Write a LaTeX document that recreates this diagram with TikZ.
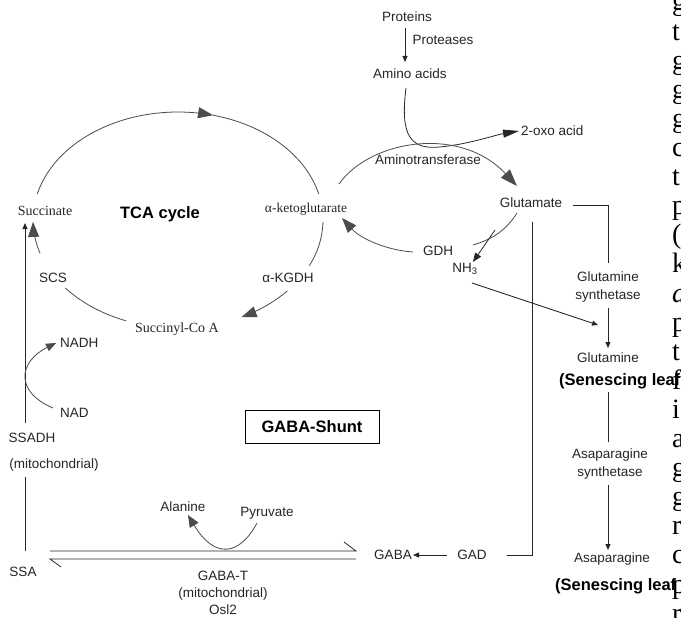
\documentclass[tikz,border=0pt]{standalone}
\usepackage{fontspec}
\setmainfont{Liberation Serif}
\newfontfamily\arialf{Liberation Sans}
\usetikzlibrary{arrows.meta}
\newcommand\lblfont{\arialf\fontsize{13.5}{17.5}\selectfont}
\newcommand\boldlblfont{\arialf\bfseries\fontsize{16.5}{18}\selectfont}
\newcommand\seriflblfont{\fontsize{14}{16}\selectfont}
\newcommand\pagefont{\fontsize{28}{30}\selectfont}
\newcommand\openpar{(}
\begin{document}
\begin{tikzpicture}[x=1pt,y=-1pt,
  lab/.style={font=\lblfont, text=black!85, inner sep=0pt, align=center},
  blab/.style={font=\boldlblfont, text=black, inner sep=0pt},
  slab/.style={font=\seriflblfont, text=black!85, inner sep=0pt},
  pagetxt/.style={font=\pagefont, text=black, inner sep=0pt, anchor=base west},
  ln/.style={draw=black!85, line width=0.8pt},
  cv/.style={draw=black!70, line width=0.8pt},
  bigtip/.style={-{Triangle[length=15pt,width=11pt]}},
  midtip/.style={-{Triangle[length=10pt,width=8pt]}},
  smtip/.style={-{Triangle[length=6pt,width=5pt]}},
]
\useasboundingbox (0,0) rectangle (681,618);
\fill[white] (0,0) rectangle (681,618);

% ---------- labels ----------
\node[lab] (prot) at (407,17) {Proteins};
\node[lab] (proteases) at (443,40) {Proteases};
\node[lab] (amino) at (410,74) {Amino acids};
\node[lab, anchor=west] (oxo) at (521,131) {2-oxo acid};
\node[lab] (aminotr) at (428,160) {Aminotransferase};
\node[lab] (glu) at (531,203) {Glutamate};
\node[lab] (gdh) at (438,251) {GDH};
\node[lab] (nh3) at (465,269) {NH\textsubscript{3}};
\node[lab] (gs) at (608,287) {Glutamine\\synthetase};
\node[lab] (gln) at (608,358) {Glutamine};
\node[blab, anchor=west] (sen1) at (559,381) {(Senescing leaf};
\node[lab] (as) at (610,464) {Asaparagine\\synthetase};
\node[lab] (asn) at (612,559) {Asaparagine};
\node[blab, anchor=west] (sen2) at (555,586) {(Senescing leaf};
\node[lab] (gad) at (472,555) {GAD};
\node[lab] (gaba) at (393,555) {GABA};
\node[lab, font=\arialf\fontsize{13.5}{17}\selectfont] (gabat) at (223,593) {GABA-T\\(mitochondrial)\\Osl2};
\node[lab] (ssa) at (23,572) {SSA};
\node[lab] (ssadh) at (32,438) {SSADH};
\node[lab] (mito) at (54,465) {(mitochondrial)};
\node[lab, anchor=west] (nad) at (60,413) {NAD};
\node[lab, anchor=west] (nadh) at (60,343) {NADH};
\node[lab] (ala) at (183,507) {Alanine};
\node[lab] (pyr) at (267,513) {Pyruvate};
\node[blab, draw=black, line width=0.8pt, minimum width=134pt, minimum height=33pt] (shunt) at (312,427) {GABA-Shunt};
\node[slab] (succ) at (45,211) {Succinate};
\node[blab] (tca) at (160,214) {TCA cycle};
\node[slab, font=\fontsize{13.5}{16}\selectfont] (akg) at (306,209) {α-ketoglutarate};
\node[lab] (scs) at (53,278) {SCS};
\node[lab] (akgdh) at (288,278) {α-KGDH};
\node[slab] (sca) at (177,329) {Succinyl-Co A};

% ---------- TCA cycle ----------
\draw[cv,bigtip] plot[domain=166:76,samples=40] ({178+145*cos(\x)},{220-108*sin(\x)});
\draw[cv] plot[domain=76:14,samples=30] ({178+145*cos(\x)},{220-108*sin(\x)});
\draw[cv] plot[domain=-1:-25,samples=15] ({178+145*cos(\x)},{220-108*sin(\x)});
\draw[cv,bigtip] plot[domain=-41:-64,samples=15] ({178+145*cos(\x)},{220-108*sin(\x)});
\draw[cv] plot[domain=-111:-141,samples=15] ({178+145*cos(\x)},{220-108*sin(\x)});
\draw[cv,bigtip] plot[domain=-162:-179,samples=15] ({178+145*cos(\x)},{220-108*sin(\x)});

% ---------- coordinates ----------
\coordinate (protS) at (405,28);
\coordinate (aminoN) at (405,62);
\coordinate (aminoS) at (406,88);
\coordinate (oxoW) at (519,131);
\coordinate (akgE) at (339,184);
\coordinate (gluN) at (517,186);
\coordinate (gluSW) at (517,213);
\coordinate (gdhE) at (473,245);
\coordinate (gdhW) at (413,252);
\coordinate (akgSE) at (342,218);
\coordinate (gdhBr) at (495,230);
\coordinate (nh3N) at (473,262);
\coordinate (nh3E) at (472,283);
\coordinate (glnIn) at (598,325);
\coordinate (gluE) at (573,205);
\coordinate (gluC) at (608,205);
\coordinate (gsN) at (608,263);
\coordinate (gsS) at (608,308);
\coordinate (glnN) at (608,348);
\coordinate (sen1S) at (608,392);
\coordinate (asN) at (608,442);
\coordinate (asS) at (608,485);
\coordinate (asnN) at (608,550);
\coordinate (vTop) at (532,222);
\coordinate (vBot) at (532,555);
\coordinate (gadE) at (507,555);
\coordinate (gadW) at (447,555);
\coordinate (gabaE) at (413,555);
\coordinate (eqTR) at (356,551);
\coordinate (eqTL) at (50,551);
\coordinate (eqTB) at (344,542);
\coordinate (eqBR) at (356,559);
\coordinate (eqBL) at (50,559);
\coordinate (eqBB) at (61,567);
\coordinate (pyrS) at (257,523);
\coordinate (alaS) at (188,515);
\coordinate (ssaN) at (25,551);
\coordinate (mitoS) at (25,477);
\coordinate (ssadhN) at (25,423);
\coordinate (succS) at (25,223);
\coordinate (nadW) at (53,408);
\coordinate (nadhW) at (56,343);

% ---------- connectors ----------
\draw[ln,smtip] (protS) -- (aminoN);
\draw[ln,-{Triangle[length=16pt,width=8pt]}] (aminoS) .. controls (400,135) and (410,150) .. (440,147) .. controls (470,144) and (495,135) .. (oxoW);
\draw[cv,-{Triangle[length=17pt,width=12pt]}] (akgE) .. controls (370,140) and (460,125) .. (gluN);
\draw[cv] (gluSW) .. controls (505,232) and (490,240) .. (gdhE);
\draw[cv,bigtip] (gdhW) .. controls (385,250) and (360,238) .. (akgSE);
\draw[ln,-{Triangle[length=9pt,width=7pt]}] (gdhBr) -- (nh3N);
\draw[ln,smtip] (nh3E) -- (glnIn);
\draw[ln] (gluE) -- (gluC) -- (gsN);
\draw[ln,smtip] (gsS) -- (glnN);
\draw[ln] (sen1S) -- (asN);
\draw[ln,smtip] (asS) -- (asnN);
\draw[ln] (vTop) -- (vBot) -- (gadE);
\draw[ln,smtip] (gadW) -- (gabaE);
\draw[ln] (eqTL) -- (eqTR) -- (eqTB);
\draw[ln] (eqBR) -- (eqBL) -- (eqBB);
\draw[cv,-{Triangle[length=12pt,width=10pt]}] (pyrS) .. controls (240,555) and (215,560) .. (alaS);
\draw[ln] (ssaN) -- (mitoS);
\draw[ln,smtip] (ssadhN) -- (succS);
\draw[cv,midtip] (nadW) .. controls (15,392) and (18,362) .. (nadhW);

% ---------- page text bleeding in at the right ----------
\foreach \c [count=\i from 0] in {g,t,g,g,g,c,t,p,\openpar,k,{\textit{a}},p,t,f,i,a,g,g,r,c,p,r}
  \node[pagetxt] (col\i) at (672,{11+\i*29.1}) {\c};
\end{tikzpicture}
\end{document}
